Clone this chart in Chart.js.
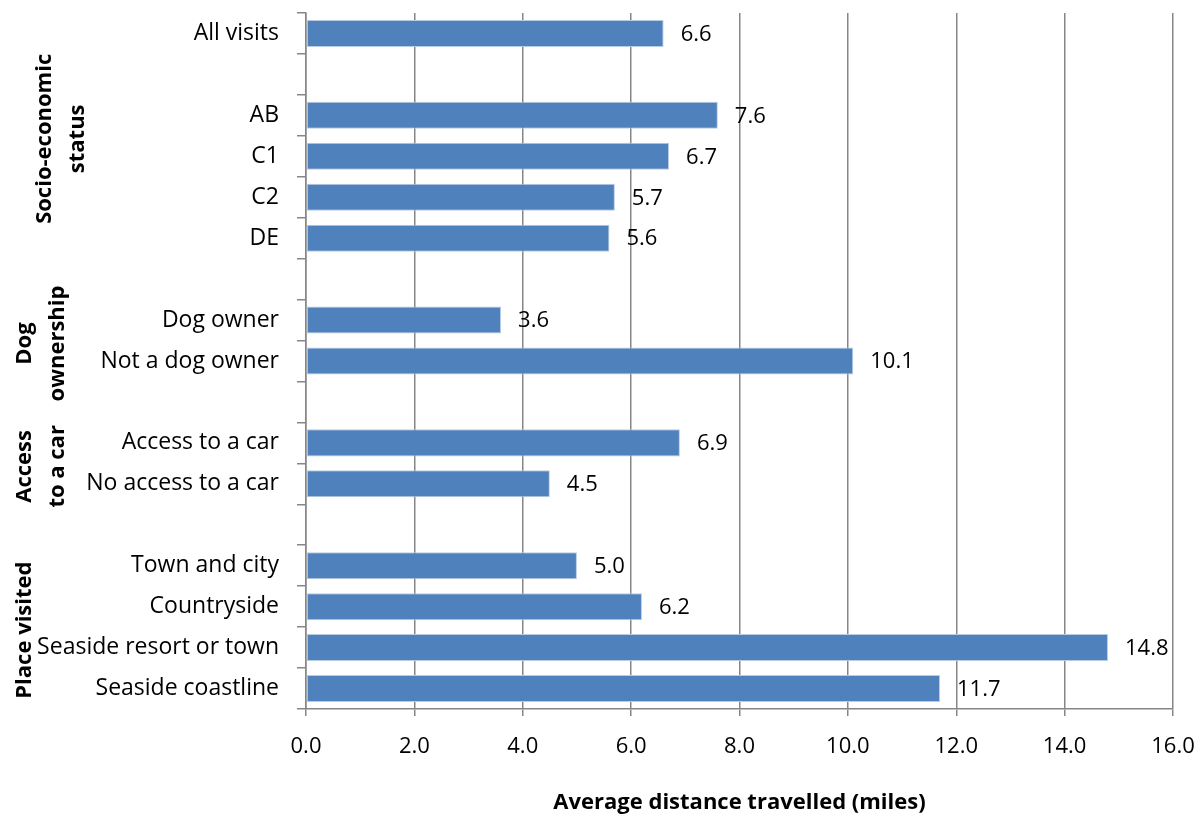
<!DOCTYPE html>
<html>
<head>
<meta charset="utf-8">
<script src="https://cdn.jsdelivr.net/npm/chart.js@4/dist/chart.umd.min.js"></script>
<style>
  html, body { margin: 0; padding: 0; background: #ffffff; }
  #wrap { width: 1203px; height: 816px; }
</style>
</head>
<body>
<div id="wrap"><canvas id="chart" width="1203" height="816"></canvas></div>
<script>
// Rows of the chart, top to bottom; empty strings are spacer rows between groups
const categories = [
  'All visits', '',
  'AB', 'C1', 'C2', 'DE', '',
  'Dog owner', 'Not a dog owner', '',
  'Access to a car', 'No access to a car', '',
  'Town and city', 'Countryside', 'Seaside resort or town', 'Seaside coastline'
];
// Average distance travelled (miles) per row
const distances = [
  6.6, null,
  7.6, 6.7, 5.7, 5.6, null,
  3.6, 10.1, null,
  6.9, 4.5, null,
  5.0, 6.2, 14.8, 11.7
];
// Group captions and the first/last row index each one spans
const groupNames = [['Socio-economic', 'status'], ['Dog', 'ownership'], ['Access', 'to a car'], ['Place visited']];
const groupFirst = [0, 7, 10, 13];
const groupLast  = [5, 8, 11, 16];
// Value axis
const xMin = 0, xMax = 16, xStep = 2;
const xTitle = 'Average distance travelled (miles)';

const FONT = '"Open Sans", "Noto Sans", sans-serif';
const AXIS_GREY = '#868686';

// Writes each bar's value just past its end
const valueLabels = {
  id: 'valueLabels',
  afterDatasetsDraw(chart) {
    const { ctx } = chart;
    const meta = chart.getDatasetMeta(0);
    ctx.save();
    ctx.font = '22px ' + FONT;
    ctx.fillStyle = '#000000';
    ctx.textAlign = 'left';
    ctx.textBaseline = 'middle';
    meta.data.forEach((bar, i) => {
      const v = distances[i];
      if (v === null || v === undefined) return;
      ctx.fillText(v.toFixed(1), bar.x + 17, bar.y + 1);
    });
    ctx.restore();
  }
};

// Rotated bold group captions at the far left
const groupCaptions = {
  id: 'groupCaptions',
  afterDraw(chart) {
    const { ctx } = chart;
    const y = chart.scales.y;
    const half = (y.getPixelForValue(1) - y.getPixelForValue(0)) / 2;
    ctx.save();
    ctx.font = 'bold 22px ' + FONT;
    ctx.fillStyle = '#000000';
    ctx.textAlign = 'center';
    ctx.textBaseline = 'middle';
    groupNames.forEach((lines, g) => {
      const top = y.getPixelForValue(groupFirst[g]) - half;
      const bottom = y.getPixelForValue(groupLast[g]) + half;
      const cy = (top + bottom) / 2 + 3;
      const lineGap = 33;
      const x0 = g === 0 ? 45 : 25;
      lines.forEach((txt, k) => {
        ctx.save();
        ctx.translate(x0 + k * lineGap, cy);
        ctx.rotate(-Math.PI / 2);
        ctx.fillText(txt, 0, 0);
        ctx.restore();
      });
    });
    ctx.restore();
  }
};

function noEdgePadding(scale) {
  scale.paddingTop = 0;
  scale.paddingBottom = 0;
  scale.paddingLeft = 0;
  scale.paddingRight = 0;
}

new Chart(document.getElementById('chart'), {
  type: 'bar',
  data: {
    labels: categories,
    datasets: [{
      data: distances,
      backgroundColor: '#4F81BD',
      borderColor: '#B8CCE4',
      borderWidth: 1,
      borderSkipped: false,
      categoryPercentage: 1.0,
      barPercentage: 0.66
    }]
  },
  options: {
    indexAxis: 'y',
    responsive: false,
    devicePixelRatio: 1,
    animation: false,
    layout: { padding: { top: 13, right: 30, bottom: 0, left: 0 } },
    plugins: {
      legend: { display: false },
      tooltip: { enabled: false }
    },
    scales: {
      x: {
        min: xMin,
        max: xMax,
        ticks: {
          stepSize: xStep,
          color: '#000000',
          font: { family: FONT, size: 22 },
          padding: 18,
          maxRotation: 0,
          callback: (v) => Number(v).toFixed(1)
        },
        grid: {
          color: AXIS_GREY,
          lineWidth: 1.5,
          tickLength: 7,
          drawTicks: true
        },
        border: { display: true, color: AXIS_GREY, width: 1.5 },
        title: {
          display: true,
          text: xTitle,
          color: '#000000',
          font: { family: FONT, size: 22, weight: 'bold' },
          padding: { top: 0, bottom: 0 }
        },
        afterFit(scale) { scale.height = 107; noEdgePadding(scale); }
      },
      y: {
        offset: true,
        ticks: {
          color: '#000000',
          font: { family: FONT, size: 23 },
          padding: 18,
          autoSkip: false
        },
        grid: {
          offset: true,
          drawOnChartArea: false,
          color: AXIS_GREY,
          lineWidth: 1.5,
          tickLength: 9
        },
        border: { display: true, color: AXIS_GREY, width: 1.5 },
        afterFit(scale) { scale.width = 306; noEdgePadding(scale); }
      }
    }
  },
  plugins: [valueLabels, groupCaptions]
});
</script>
</body>
</html>
